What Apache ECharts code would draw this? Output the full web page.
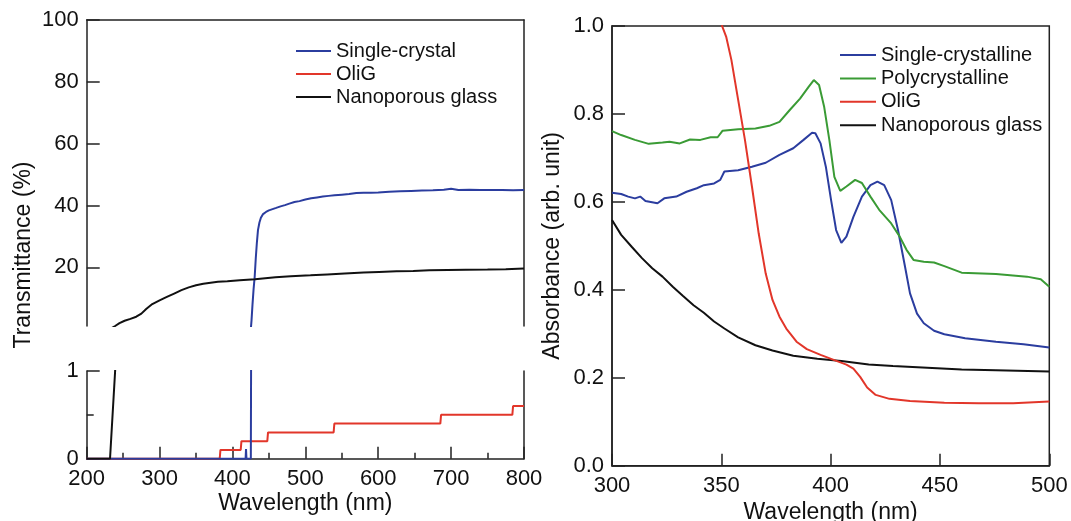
<!DOCTYPE html>
<html>
<head>
<meta charset="utf-8">
<script src="https://cdn.jsdelivr.net/npm/echarts@6/dist/echarts.min.js"></script>
<style>
html, body { margin: 0; padding: 0; background: #fff; }
#chart { width: 1071px; height: 521px; }
</style>
</head>
<body>
<div id="chart"></div>
<script>
// left panel: transmittance (%) vs wavelength (nm), broken y axis
const transSingle = [
  [200, 0], [418, 0], [418.6, 0.11], [419.2, 0], [425.2, 0], [426.2, 3], [427.5, 8], [429, 13],
  [430.5, 17], [432, 23], [433.5, 28], [435, 32], [437, 34.5], [439, 36], [442, 37.2], [446, 37.9],
  [450, 38.4], [455, 38.8], [460, 39.2], [466, 39.7], [472, 40.1], [478, 40.6], [485, 41.1],
  [492, 41.4], [500, 41.9], [508, 42.3], [516, 42.6], [524, 42.9], [532, 43.1], [540, 43.3],
  [550, 43.5], [560, 43.7], [570, 44.0], [580, 44.1], [590, 44.1], [600, 44.2], [615, 44.4],
  [630, 44.6], [645, 44.7], [660, 44.8], [675, 44.9], [690, 45.1], [700, 45.4], [710, 45.0],
  [725, 45.1], [740, 45.0], [755, 45.0], [770, 45.0], [785, 44.9], [800, 45.0]
]
const transOliG = [
  [200, 0], [382.5, 0], [383.5, 0.1], [411.3, 0.1], [412.3, 0.2], [447.8, 0.2], [448.8, 0.3],
  [538.8, 0.3], [539.8, 0.4], [685.2, 0.4], [686.2, 0.5], [784, 0.5], [785, 0.6], [800, 0.6]
]
const transGlass = [
  [200, 0], [232, 0], [239, 1], [240, 1.2], [245, 1.9], [252, 2.7], [260, 3.3], [268, 4.0],
  [275, 5.0], [282, 6.6], [290, 8.1], [300, 9.3], [310, 10.4], [320, 11.5], [330, 12.6],
  [340, 13.5], [350, 14.2], [360, 14.7], [370, 15.0], [380, 15.3], [393, 15.5], [410, 15.8],
  [431, 16.1], [459, 16.8], [480, 17.1], [507, 17.4], [530, 17.7], [554, 18.0], [580, 18.3],
  [601, 18.5], [625, 18.7], [648, 18.8], [670, 19.0], [695, 19.1], [720, 19.2], [750, 19.3],
  [775, 19.4], [800, 19.6]
]
const transTicks = [20, 40, 60, 80, 100]

// right panel: absorbance vs wavelength (nm)
const absSingle = [
  [300, 0.621], [304.2, 0.618], [307.4, 0.612], [310.5, 0.608], [312.9, 0.612], [315.3, 0.602],
  [320.8, 0.597], [323.9, 0.608], [329.4, 0.612], [334.1, 0.623], [338.8, 0.631], [342, 0.638],
  [346.7, 0.642], [349.5, 0.650], [351.4, 0.669], [357.7, 0.672], [364, 0.680], [370.3, 0.689],
  [376.6, 0.707], [382.9, 0.722], [387.6, 0.741], [391.5, 0.757], [393, 0.756], [395.4, 0.733],
  [397.8, 0.680], [400.2, 0.604], [402.5, 0.536], [404.9, 0.507], [407.2, 0.521], [410.4, 0.566],
  [414.3, 0.612], [418.2, 0.638], [421.4, 0.646], [424.5, 0.638], [427.7, 0.604], [430.8, 0.536],
  [434, 0.453], [436.3, 0.392], [439.5, 0.346], [442.6, 0.324], [447.3, 0.307], [452, 0.299],
  [461.5, 0.290], [475.6, 0.282], [488.2, 0.276], [500, 0.269]
]
const absPoly = [
  [300, 0.761], [304.2, 0.752], [310.5, 0.741], [316.8, 0.732], [323.1, 0.735], [326.3, 0.737],
  [331, 0.733], [335.7, 0.742], [340.4, 0.741], [345.1, 0.747], [348.3, 0.747], [350.6, 0.762],
  [357.7, 0.765], [365.6, 0.767], [371.9, 0.773], [376.6, 0.782], [381.3, 0.809], [386, 0.835],
  [390, 0.862], [392.3, 0.877], [394.7, 0.866], [397, 0.817], [399.4, 0.741], [401.7, 0.657],
  [404.4, 0.625], [407.2, 0.635], [411.2, 0.650], [414.3, 0.643], [418.2, 0.612], [422.2, 0.582],
  [427.7, 0.551], [431.6, 0.521], [434.7, 0.491], [437.9, 0.468], [442.6, 0.464], [447.3, 0.462],
  [452, 0.454], [459.9, 0.439], [475.6, 0.436], [489.8, 0.430], [496.1, 0.424], [500, 0.407]
]
const absOliG = [
  [350.2, 1.002], [352.2, 0.976], [354.6, 0.923], [357.7, 0.832], [360.8, 0.741], [364, 0.635],
  [367.1, 0.528], [370.3, 0.437], [373.4, 0.377], [376.6, 0.339], [379.7, 0.312], [384.4, 0.282],
  [389.1, 0.265], [395.4, 0.252], [401.7, 0.240], [407.2, 0.230], [410.4, 0.221], [413.5, 0.202],
  [416.7, 0.178], [420.6, 0.161], [426.9, 0.152], [436.3, 0.147], [452, 0.143], [467.8, 0.142],
  [483.5, 0.142], [500, 0.146]
]
const absGlass = [
  [300, 0.559], [304.2, 0.525], [309, 0.498], [313.7, 0.472], [318.4, 0.449], [323.1, 0.430],
  [327.8, 0.407], [332.5, 0.386], [337.3, 0.365], [342, 0.348], [346.7, 0.328], [351.4, 0.312],
  [357.7, 0.292], [365.6, 0.274], [373.4, 0.262], [382.9, 0.250], [393.9, 0.243], [404.9, 0.238],
  [417.4, 0.230], [428.5, 0.227], [444.2, 0.223], [459.9, 0.219], [475.6, 0.217], [500, 0.214]
]

const FONT = 'Liberation Sans, Arial, sans-serif'
const INK = '#111'
const BLUE = '#2b3d9f'
const GREEN = '#3a9b35'
const RED = '#e2362a'

const axisLine = () => ({ show: true, onZero: false, lineStyle: { color: '#222', width: 1.5 } })
const ticks = (length, extra) => Object.assign(
  { show: true, inside: true, length, lineStyle: { color: '#222', width: 1.5 } }, extra || {})
const labels = extra => Object.assign({ fontSize: 22, color: INK, fontFamily: FONT }, extra || {})
const nameStyle = () => ({ fontSize: 23, color: INK, fontFamily: FONT })
const noTicks = { axisTick: { show: false }, axisLabel: { show: false }, splitLine: { show: false } }

// rectangles of the three plot areas
const topLeft = { left: 86.7, top: 20, width: 437.3, height: 306, outerBoundsMode: 'none' }
const bottomLeft = { left: 86.7, top: 371, width: 437.3, height: 87.7, outerBoundsMode: 'none' }
const right = { left: 612, top: 26, width: 437.3, height: 439.7, outerBoundsMode: 'none' }

function line (name, data, color, xAxisIndex, yAxisIndex) {
  return {
    name, type: 'line', data, xAxisIndex, yAxisIndex,
    symbol: 'none', clip: true, animation: false,
    lineStyle: { color, width: 2 }, itemStyle: { color }
  }
}

const chart = echarts.init(document.getElementById('chart'), null, { renderer: 'canvas' })

const option = {
  backgroundColor: '#fff',
  animation: false,
  grid: [
    topLeft,
    bottomLeft,
    Object.assign({ show: true, borderColor: '#222', borderWidth: 1.5 }, right),
    // overlay grids that only carry the right-hand frame lines of the left panels
    Object.assign({}, topLeft),
    Object.assign({}, bottomLeft)
  ],
  xAxis: [
    Object.assign({ gridIndex: 0, type: 'value', position: 'top', min: 200, max: 800, axisLine: axisLine() }, noTicks),
    {
      gridIndex: 1, type: 'value', position: 'bottom', min: 200, max: 800, interval: 100,
      axisLine: axisLine(),
      axisTick: ticks(12),
      minorTick: ticks(6, { splitNumber: 2 }),
      axisLabel: labels({ margin: 9 }),
      splitLine: { show: false },
      name: 'Wavelength (nm)', nameLocation: 'middle', nameGap: 33, nameTextStyle: nameStyle()
    },
    {
      gridIndex: 2, type: 'value', position: 'bottom', min: 300, max: 500, interval: 50,
      axisLine: axisLine(),
      axisTick: ticks(12),
      axisLabel: labels({ margin: 9 }),
      splitLine: { show: false },
      name: 'Wavelength (nm)', nameLocation: 'middle', nameGap: 33, nameTextStyle: nameStyle()
    },
    { gridIndex: 3, type: 'value', min: 0, max: 1, show: false },
    { gridIndex: 4, type: 'value', min: 0, max: 1, show: false }
  ],
  yAxis: [
    {
      gridIndex: 0, type: 'value', position: 'left', min: 1, max: 100,
      axisLine: axisLine(),
      axisTick: ticks(13, { customValues: transTicks }),
      axisLabel: labels({ margin: 8, customValues: transTicks }),
      splitLine: { show: false }
    },
    {
      gridIndex: 1, type: 'value', position: 'left', min: 0, max: 1, interval: 1,
      axisLine: axisLine(),
      axisTick: ticks(13),
      minorTick: ticks(7, { splitNumber: 2 }),
      axisLabel: labels({ margin: 8 }),
      splitLine: { show: false }
    },
    {
      gridIndex: 2, type: 'value', position: 'left', min: 0, max: 1, interval: 0.2,
      axisLine: axisLine(),
      axisTick: ticks(13),
      axisLabel: labels({ margin: 8, formatter: v => v.toFixed(1) }),
      splitLine: { show: false },
      name: 'Absorbance (arb. unit)', nameLocation: 'middle', nameGap: 48, nameTextStyle: nameStyle()
    },
    Object.assign({ gridIndex: 3, type: 'value', position: 'right', min: 0, max: 1, axisLine: axisLine() }, noTicks),
    Object.assign({ gridIndex: 4, type: 'value', position: 'right', min: 0, max: 1, axisLine: axisLine() }, noTicks)
  ],
  legend: [
    {
      left: 296, top: 41, orient: 'vertical', padding: 0, icon: 'rect',
      itemWidth: 35, itemHeight: 2, itemGap: 3,
      data: ['Single-crystal', 'OliG', 'Nanoporous glass'],
      textStyle: { fontSize: 20, lineHeight: 20, color: INK, fontFamily: FONT }
    },
    {
      left: 840, top: 45, orient: 'vertical', padding: 0, icon: 'rect',
      itemWidth: 36, itemHeight: 2, itemGap: 3.4,
      data: ['Single-crystalline', 'Polycrystalline', 'OliG', 'Nanoporous glass'],
      textStyle: { fontSize: 20, lineHeight: 20, color: INK, fontFamily: FONT }
    }
  ],
  graphic: [
    {
      type: 'text', x: 24, y: 255, rotation: Math.PI / 2,
      style: {
        text: 'Transmittance (%)', fontSize: 23, fontFamily: FONT, fill: INK,
        align: 'center', verticalAlign: 'middle'
      }
    }
  ],
  series: [
    line('Single-crystal', transSingle, BLUE, 0, 0),
    line('Nanoporous glass', transGlass, INK, 0, 0),
    line('OliG', transOliG, RED, 1, 1),
    line('Single-crystal', transSingle, BLUE, 1, 1),
    line('Nanoporous glass', transGlass, INK, 1, 1),
    line('Single-crystalline', absSingle, BLUE, 2, 2),
    line('Polycrystalline', absPoly, GREEN, 2, 2),
    line('Nanoporous glass', absGlass, INK, 2, 2),
    line('OliG', absOliG, RED, 2, 2)
  ]
}

chart.setOption(option)
</script>
</body>
</html>
